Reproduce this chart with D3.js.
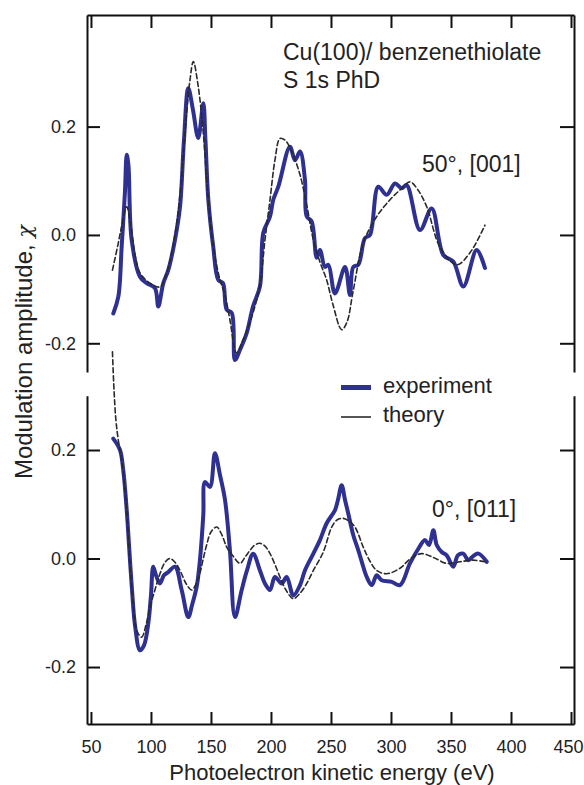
<!DOCTYPE html>
<html>
<head>
<meta charset="utf-8">
<script src="https://cdn.jsdelivr.net/npm/d3@7"></script>
<style>
  body { margin: 0; background: #fff; }
  text { font-family: "Liberation Sans", Arial, sans-serif; fill: #222; }
</style>
</head>
<body>
<svg id="chart" width="584" height="785"></svg>
<script>
// S 1s PhD modulation, Cu(100)/benzenethiolate - two emission directions

// [kinetic energy (eV), chi]
const topExperiment = [
  [68.6,-0.145],[72.8,-0.114],[75.6,-0.021],[78.3,0.078],[79.8,0.148],[81.2,0.129],
  [83.9,-0.009],[90.8,-0.077],[96.4,-0.089],[103.3,-0.098],[106.1,-0.132],[110.3,-0.089],
  [114.4,-0.065],[120.0,-0.009],[124.2,0.052],[127.5,0.175],[131.1,0.271],[135.0,0.231],
  [139.4,0.179],[143.6,0.243],[145.4,0.175],[147.8,0.065],[151.9,-0.022],[156.1,-0.083],
  [160.0,-0.089],[163.1,-0.138],[167.3,-0.144],[170.0,-0.231],[174.2,-0.212],[179.8,-0.181],
  [185.0,-0.132],[190.8,-0.095],[193.6,0.004],[199.2,0.034],[201.9,0.065],[206.1,0.089],
  [215.8,0.163],[220.0,0.138],[224.2,0.154],[228.3,0.102],[229.8,0.034],[233.9,0.025],
  [238.1,-0.042],[240.8,-0.028],[245.0,-0.059],[247.8,-0.055],[253.3,-0.108],[261.7,-0.059],
  [265.8,-0.111],[268.6,-0.059],[272.8,-0.055],[278.3,-0.006],[282.5,0.0],[289.4,0.089],
  [296.4,0.074],[303.3,0.095],[308.9,0.086],[313.1,0.092],[324.2,0.009],[333.9,0.049],
  [343.6,-0.037],[351.9,-0.049],[360.3,-0.095],[371.4,-0.028],[378.3,-0.061]
];
const topTheory = [
  [67.9,-0.065],[72.5,-0.018],[75.8,0.018],[79.8,0.052],[82.5,0.028],[86.7,-0.037],
  [90.8,-0.07],[99.2,-0.089],[107.5,-0.096],[112.5,-0.074],[118.3,-0.022],[124.2,0.074],
  [129.2,0.212],[132.5,0.286],[135.3,0.32],[139.2,0.277],[143.6,0.188],[147.5,0.074],
  [151.7,-0.018],[157.5,-0.083],[161.7,-0.111],[165.8,-0.157],[171.4,-0.218],[176.7,-0.194],
  [185.0,-0.144],[190.8,-0.092],[195.0,-0.009],[199.2,0.065],[203.3,0.138],[207.5,0.178],
  [211.7,0.175],[217.5,0.153],[224.2,0.111],[229.8,0.055],[235.3,-0.009],[240.8,-0.05],
  [246.4,-0.083],[251.7,-0.129],[258.9,-0.175],[263.3,-0.161],[268.6,-0.102],[276.9,-0.015],
  [288.1,0.034],[299.2,0.065],[307.5,0.083],[315.8,0.098],[322.5,0.083],[329.8,0.052],
  [340.8,-0.022],[354.8,-0.055],[365.8,-0.033],[378.3,0.018]
];
const bottomExperiment = [
  [68.6,0.221],[74.2,0.2],[76.9,0.163],[79.8,0.089],[81.7,0.025],[84.2,-0.058],
  [86.7,-0.123],[90.8,-0.169],[94.2,-0.16],[97.8,-0.119],[100.0,-0.068],[101.9,-0.015],
  [104.2,-0.031],[107.5,-0.046],[110.8,-0.031],[114.4,-0.025],[120.0,-0.015],[125.6,-0.058],
  [131.1,-0.108],[134.2,-0.086],[138.1,-0.052],[140.8,-0.003],[143.6,0.08],[145.0,0.141],
  [149.2,0.132],[153.3,0.194],[157.5,0.154],[161.7,0.108],[165.8,0.015],[170.0,-0.108],
  [175.6,-0.058],[180.0,-0.022],[185.2,0.009],[190.8,-0.022],[195.0,-0.046],[199.2,-0.058],
  [203.3,-0.034],[208.9,-0.046],[213.1,-0.034],[218.6,-0.068],[224.2,-0.049],[228.3,-0.022],
  [235.3,0.009],[240.8,0.034],[246.4,0.065],[253.3,0.089],[255.8,0.108],[258.9,0.135],
  [261.7,0.108],[264.4,0.083],[268.6,0.043],[272.8,0.015],[275.8,-0.007],[279.8,-0.034],
  [284.0,-0.049],[288.1,-0.031],[292.2,-0.04],[300.6,-0.043],[307.5,-0.049],[315.8,-0.009],
  [322.8,0.018],[328.3,0.034],[331.7,0.025],[335.3,0.052],[338.1,0.025],[342.3,0.012],
  [346.4,0.006],[351.9,-0.015],[355.8,0.006],[360.3,0.009],[364.4,-0.003],[368.3,0.004],
  [372.8,0.009],[379.8,-0.006]
];
const bottomTheory = [
  [67.9,0.381],[69.2,0.311],[70.8,0.255],[72.8,0.218],[75.6,0.181],[79.8,0.089],
  [82.5,-0.012],[85.0,-0.077],[88.1,-0.132],[92.2,-0.145],[95.8,-0.123],[99.2,-0.089],
  [103.3,-0.058],[107.5,-0.028],[111.7,-0.007],[115.8,0.0],[120.0,-0.007],[124.2,-0.022],
  [129.2,-0.046],[133.9,-0.058],[137.5,-0.047],[140.8,-0.027],[143.3,-0.003],[146.4,0.025],
  [150.0,0.049],[154.8,0.058],[159.2,0.043],[163.1,0.021],[168.6,0.004],[174.2,-0.009],
  [178.3,0.002],[182.5,0.015],[186.7,0.025],[190.8,0.028],[195.0,0.023],[199.2,0.009],
  [203.3,-0.011],[207.5,-0.034],[212.5,-0.058],[218.6,-0.074],[224.2,-0.064],[229.8,-0.046],
  [235.3,-0.022],[243.6,0.012],[250.6,0.058],[255.0,0.071],[260.3,0.074],[265.0,0.069],
  [270.0,0.058],[276.9,0.021],[282.5,-0.005],[288.1,-0.022],[296.4,-0.028],[307.5,-0.018],
  [315.8,-0.001],[325.6,0.009],[335.3,0.002],[346.4,-0.009],[357.5,-0.006],[368.6,-0.003],
  [378.3,-0.006]
];

const xTicks = [50, 100, 150, 200, 250, 300, 350, 400, 450];
const yTicks = [-0.2, 0.0, 0.2];
const annotation = ["Cu(100)/ benzenethiolate", "S 1s PhD"];
const panelLabels = ["50°, [001]", "0°, [011]"];
const legendLabels = ["experiment", "theory"];

const expColor = "#2e3192";
const theoColor = "#2a2a2a";

const svg = d3.select("#chart");

const x = d3.scaleLinear().domain([46.7, 452.5]).range([87, 574]);
const yTop = d3.scaleLinear().domain([-0.253, 0.406]).range([372, 15]);
const yBot = d3.scaleLinear().domain([-0.305, 0.30]).range([724, 395.75]);

function styleAxis(g, fs) {
  g.select(".domain").attr("stroke", "#111").attr("stroke-width", 2);
  g.selectAll(".tick line").attr("stroke", "#111").attr("stroke-width", 2);
  g.selectAll(".tick text").attr("fill", "#222")
    .style("font-family", '"Liberation Sans", Arial, sans-serif')
    .style("font-size", fs + "px");
}

// x axes (bottom labelled, top ticks only)
svg.append("g").attr("transform", "translate(0,724)")
  .call(d3.axisBottom(x).tickValues(xTicks).tickSizeInner(-12).tickSizeOuter(0).tickPadding(16))
  .call(g => styleAxis(g, 18))
  .call(g => g.selectAll(".tick text").filter(d => d === 450).attr("dx", -3));
svg.append("g").attr("transform", "translate(0,15)")
  .call(d3.axisTop(x).tickValues(xTicks).tickSizeInner(-13).tickSizeOuter(0).tickFormat(""))
  .call(g => styleAxis(g, 18));

// plain hyphen for negatives, as in the original figure
const fmt = d3.formatLocale({decimal: ".", thousands: ",", grouping: [3], currency: ["", ""], minus: "-"}).format(".1f");
[yTop, yBot].forEach(sc => {
  svg.append("g").attr("transform", "translate(87,0)")
    .call(d3.axisLeft(sc).tickValues(yTicks).tickSizeInner(-13).tickSizeOuter(0).tickPadding(11).tickFormat(fmt))
    .call(g => styleAxis(g, 18));
  svg.append("g").attr("transform", "translate(574,0)")
    .call(d3.axisRight(sc).tickValues(yTicks).tickSizeInner(-14).tickSizeOuter(0).tickFormat(""))
    .call(g => styleAxis(g, 18));
});

// curves
const series = [
  {data: topExperiment, y: yTop, exp: true},
  {data: bottomExperiment, y: yBot, exp: true},
  {data: topTheory, y: yTop, exp: false},
  {data: bottomTheory, y: yBot, exp: false}
];
series.forEach(s => {
  const line = d3.line()
    .x(d => x(d[0]))
    .y(d => s.y(d[1]))
    .curve(d3.curveCatmullRom.alpha(0.5));
  svg.append("path")
    .datum(s.data)
    .attr("fill", "none")
    .attr("stroke", s.exp ? expColor : theoColor)
    .attr("stroke-width", s.exp ? 4 : 1.6)
    .attr("stroke-linejoin", "round")
    .attr("stroke-linecap", "round")
    .attr("stroke-dasharray", s.exp ? null : "5,3")
    .attr("d", line);
});

// labels
svg.append("text")
  .attr("x", 283).attr("y", 60)
  .style("font-size", "23px")
  .selectAll("tspan").data(annotation).join("tspan")
  .attr("x", 283).attr("dy", (d, i) => i ? 28 : 0)
  .text(d => d);

svg.append("text").attr("x", 422).attr("y", 172).style("font-size", "23px").text(panelLabels[0]);
svg.append("text").attr("x", 432).attr("y", 517).style("font-size", "23px").text(panelLabels[1]);

// legend
const legend = svg.append("g");
legendLabels.forEach((lab, i) => {
  const ly = 387.5 + i * 29.5;
  legend.append("line")
    .attr("x1", 341).attr("x2", 371).attr("y1", ly).attr("y2", ly)
    .attr("stroke", i ? theoColor : expColor)
    .attr("stroke-width", i ? 1.6 : 5);
  legend.append("text")
    .attr("x", 383).attr("y", ly + 5)
    .style("font-size", "22px")
    .text(lab);
});

// axis titles
svg.append("text")
  .attr("x", 332).attr("y", 780)
  .attr("text-anchor", "middle")
  .style("font-size", "22px")
  .text("Photoelectron kinetic energy (eV)");

const ylab = svg.append("text")
  .attr("transform", "translate(32,352) rotate(-90)")
  .attr("text-anchor", "middle")
  .style("font-size", "24px");
ylab.append("tspan").text("Modulation amplitude, ");
ylab.append("tspan")
  .style("font-family", '"DejaVu Serif", serif')
  .style("font-style", "italic")
  .style("font-size", "21px")
  .text("χ");
</script>
</body>
</html>
